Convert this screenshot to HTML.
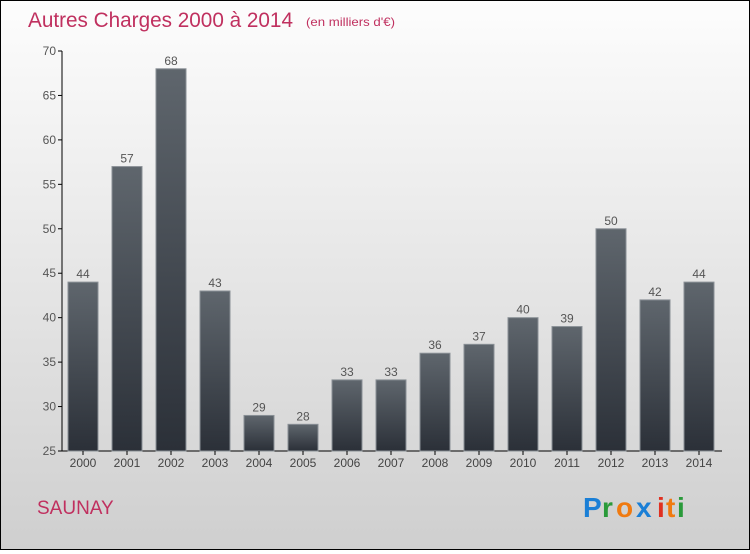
<!DOCTYPE html>
<html><head><meta charset="utf-8"><style>
body{margin:0;width:750px;height:550px;overflow:hidden;font-family:"Liberation Sans",sans-serif}
#wrap{position:absolute;left:0;top:0;width:748px;height:548px;border:1px solid #000;background:linear-gradient(#fdfdfd,#cfcfcf)}
</style></head><body>
<div id="wrap">
<svg width="748" height="548" font-family="Liberation Sans,sans-serif">
<defs><linearGradient id="bg" x1="0" y1="0" x2="0" y2="1"><stop offset="0" stop-color="#5f666d"/><stop offset="1" stop-color="#2b3038"/></linearGradient></defs>
<text x="27" y="26" font-size="21" fill="#c0305f" textLength="265" lengthAdjust="spacingAndGlyphs">Autres Charges 2000 à 2014</text>
<text x="305" y="25" font-size="12" fill="#c0305f" textLength="89" lengthAdjust="spacingAndGlyphs">(en milliers d'€)</text>
<g id="plot"></g>
<text x="36" y="513" font-size="19" fill="#c0305f">SAUNAY</text>
<g font-size="28" font-weight="bold">
<text x="582" y="516" fill="#1a7fd6">P</text><text x="601" y="516" fill="#2a9a3a">r</text><text x="615" y="516" fill="#f07a10">o</text><text x="635" y="516" fill="#1a7fd6">x</text><text x="656" y="516" fill="#e03020">i</text><text x="665" y="516" fill="#f07a10">t</text><text x="676" y="516" fill="#2a9a3a">i</text></g>
</svg></div>
<script>
const years=["2000","2001","2002","2003","2004","2005","2006","2007","2008","2009","2010","2011","2012","2013","2014"];
const values=[44,57,68,43,29,28,33,33,36,37,40,39,50,42,44];
const ticks=[25,30,35,40,45,50,55,60,65,70];
const NS="http://www.w3.org/2000/svg";
const g=document.getElementById('plot');
const y=v=>450-(v-25)*400/45;
const x=i=>82+i*44;
function mk(t,a,p){const e=document.createElementNS(NS,t);for(const k in a)e.setAttribute(k,a[k]);(p||g).appendChild(e);return e;}
let ax=mk('line',{x1:61,y1:50,x2:61,y2:450,stroke:'#000'});


let xx=mk('line',{x1:61,y1:450,x2:721,y2:450,stroke:'#000'});


ticks.forEach(t=>{
 mk('line',{x1:57,x2:61,y1:y(t),y2:y(t),stroke:'#000'});
 const tx=mk('text',{x:55,y:y(t)+4,'text-anchor':'end','font-size':12,fill:'#555'});tx.textContent=t;
 
 
});
values.forEach((v,i)=>{
 const r=mk('rect',{x:x(i)-15,y:y(v),width:30,height:450-y(v),fill:'url(#bg)',stroke:'#8a9096','stroke-width':1});
 
 
 const l=mk('text',{x:x(i),y:y(v)-4,'text-anchor':'middle','font-size':12,fill:'#555'});l.textContent=v;
 
 
 mk('line',{x1:x(i),x2:x(i),y1:450,y2:454,stroke:'#000'});
 const t=mk('text',{x:x(i),y:466,'text-anchor':'middle','font-size':12,fill:'#444'});t.textContent=years[i];
 
 
});
</script>
</body></html>
